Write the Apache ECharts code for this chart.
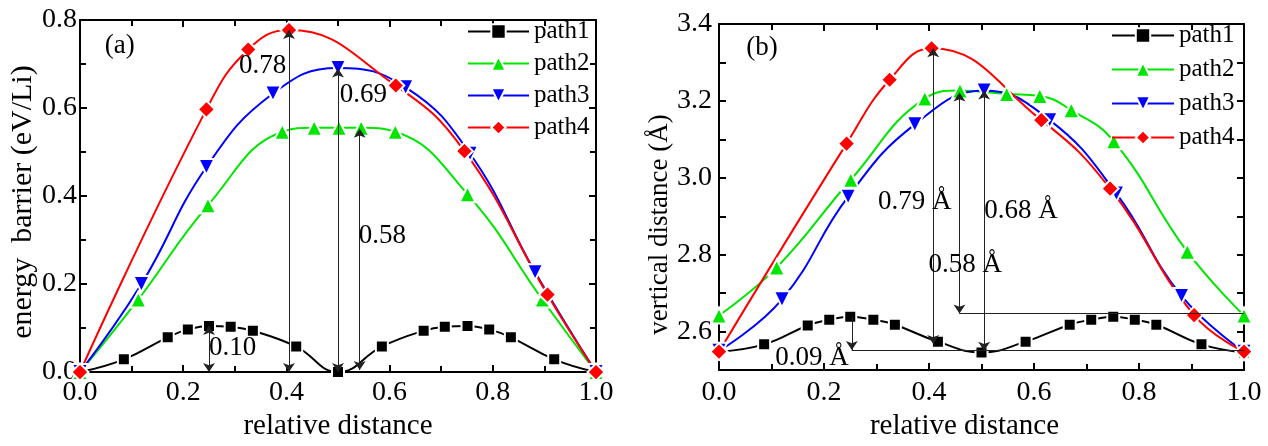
<!DOCTYPE html>
<html><head><meta charset="utf-8">
<script src="https://cdn.jsdelivr.net/npm/echarts@6/dist/echarts.min.js"></script>
<style>html,body{margin:0;padding:0;background:#fff}#c{width:1268px;height:446px}</style>
</head><body><div id="c"></div>
<script>
// ---------- data: panel (a) energy barrier ----------
const seriesNames = ['path1', 'path2', 'path3', 'path4'];
const a_p1_x = [0, 0.085, 0.17, 0.209, 0.25, 0.292, 0.335, 0.419, 0.5, 0.585, 0.666, 0.707, 0.751, 0.793, 0.835, 0.919, 1.0];
const a_p1_y = [0, 0.029, 0.079, 0.097, 0.105, 0.103, 0.094, 0.058, 0, 0.058, 0.094, 0.103, 0.105, 0.097, 0.079, 0.029, 0];
const a_p2_x = [0, 0.113, 0.248, 0.392, 0.454, 0.502, 0.545, 0.611, 0.751, 0.896, 1.0];
const a_p2_y = [0, 0.165, 0.379, 0.546, 0.555, 0.555, 0.555, 0.546, 0.404, 0.165, 0];
const a_p3_x = [0, 0.119, 0.245, 0.374, 0.5, 0.631, 0.756, 0.882, 1.0];
const a_p3_y = [0, 0.2, 0.466, 0.633, 0.691, 0.647, 0.496, 0.227, 0];
const a_p4_x = [0, 0.245, 0.326, 0.405, 0.612, 0.745, 0.906, 1.0];
const a_p4_y = [0, 0.597, 0.733, 0.777, 0.651, 0.502, 0.176, 0];
// annotation segments [x1,y1,x2,y2]
const a_arrowsBoth = [[0.405, 0, 0.405, 0.777], [0.5, 0, 0.5, 0.69], [0.542, 0.005, 0.542, 0.553], [0.25, 0, 0.25, 0.105]];
const a_labels = [['0.78', 0.354, 0.695], ['0.69', 0.549, 0.63], ['0.58', 0.586, 0.31], ['0.10', 0.296, 0.055], ['(a)', 0.077, 0.741]];

// ---------- data: panel (b) vertical distance ----------
const b_p1_x = [0, 0.086, 0.169, 0.21, 0.25, 0.294, 0.335, 0.417, 0.5, 0.584, 0.668, 0.709, 0.751, 0.792, 0.833, 0.919, 1.0];
const b_p1_y = [2.548, 2.567, 2.616, 2.631, 2.639, 2.631, 2.618, 2.574, 2.546, 2.574, 2.618, 2.631, 2.639, 2.631, 2.618, 2.567, 2.546];
const b_p2_x = [0, 0.11, 0.251, 0.392, 0.459, 0.548, 0.611, 0.671, 0.752, 0.892, 1.0];
const b_p2_y = [2.642, 2.767, 2.995, 3.206, 3.227, 3.218, 3.213, 3.176, 3.095, 2.808, 2.642];
const b_p3_x = [0, 0.12, 0.246, 0.373, 0.505, 0.63, 0.757, 0.881, 1.0];
const b_p3_y = [2.55, 2.684, 2.951, 3.139, 3.227, 3.15, 2.959, 2.693, 2.548];
const b_p4_x = [0, 0.243, 0.325, 0.405, 0.614, 0.745, 0.905, 1.0];
const b_p4_y = [2.548, 3.089, 3.255, 3.337, 3.15, 2.972, 2.643, 2.548];
const b_arrowsBoth = [[0.408, 2.568, 0.408, 3.337], [0.458, 2.647, 0.458, 3.222], [0.505, 2.55, 0.505, 3.227]];
const b_arrowsEnd = [[0.253, 2.639, 0.253, 2.552]];
const b_plain = [[0.458, 2.647, 1.0, 2.647], [0.253, 2.552, 1.0, 2.552]];
const b_labels = [['0.79 Å', 0.373, 2.938], ['0.68 Å', 0.575, 2.913], ['0.58 Å', 0.469, 2.773], ['0.09 Å', 0.177, 2.531], ['(b)', 0.082, 3.338]];

// ---------- styling ----------
const FONT = 'Liberation Serif';
const styles = {
  path1: { color: '#000000', symbol: 'rect', size: 12, rotate: 0 },
  path2: { color: '#00e600', symbol: 'triangle', size: 16, rotate: 0 },
  path3: { color: '#0000ff', symbol: 'triangle', size: 16, rotate: 180 },
  path4: { color: '#ff0000', symbol: 'diamond', size: 17, rotate: 0 }
};

function lineSeries(name, xs, ys, gi) {
  const s = styles[name];
  return {
    type: 'line', name: name, xAxisIndex: gi * 2, yAxisIndex: gi * 2,
    data: xs.map((x, i) => [x, ys[i]]),
    smooth: 0.45,
    symbol: s.symbol, symbolSize: s.size, symbolRotate: s.rotate,
    lineStyle: { color: s.color, width: 2 },
    itemStyle: { color: s.color, borderColor: '#fff', borderWidth: 2 },
    clip: true
  };
}
function segSeries(segs, gi, sym) {
  return {
    type: 'lines', coordinateSystem: 'cartesian2d', xAxisIndex: gi * 2, yAxisIndex: gi * 2,
    data: segs.map(s => ({ coords: [[s[0], s[1]], [s[2], s[3]]] })),
    symbol: sym, symbolSize: 9,
    lineStyle: { color: '#222', width: 1, opacity: 1 }, silent: true, z: 5
  };
}
function labelSeries(labels, gi) {
  return {
    type: 'custom', xAxisIndex: gi * 2, yAxisIndex: gi * 2, silent: true, z: 6, clip: false,
    data: labels.map(l => [l[1], l[2]]),
    renderItem: function (params, api) {
      const p = api.coord([api.value(0), api.value(1)]);
      return {
        type: 'text', x: p[0], y: p[1],
        style: { text: labels[params.dataIndex][0], fill: '#000',
          font: '27px "Liberation Serif"', align: 'center', verticalAlign: 'middle' }
      };
    }
  };
}
function xAxisPair(gi, labelMargin, namePad) {
  const common = {
    type: 'value', gridIndex: gi, min: 0, max: 1, interval: 0.2,
    axisLine: { show: true, onZero: false, lineStyle: { color: '#000', width: 2 } },
    axisTick: { show: true, inside: true, length: 7, lineStyle: { color: '#000', width: 2 } },
    minorTick: { show: true, splitNumber: 2, length: 6, lineStyle: { color: '#000', width: 2 } },
    splitLine: { show: false }, minorSplitLine: { show: false }
  };
  return [
    Object.assign({}, common, {
      position: 'bottom',
      name: 'relative distance', nameLocation: 'middle', nameGap: 30,
      nameTextStyle: { fontFamily: FONT, fontSize: 29, color: '#000', padding: namePad },
      axisLabel: { margin: labelMargin, fontFamily: FONT, fontSize: 28, color: '#000',
        formatter: v => v.toFixed(1) }
    }),
    Object.assign({}, common, { position: 'top', axisLabel: { show: false } })
  ];
}

const option = {
  animation: false,
  backgroundColor: '#fff',
  grid: [
    { left: 80, top: 20, width: 516, height: 367 },
    { left: 719, top: 24, width: 525, height: 353 }
  ],
  xAxis: [].concat(xAxisPair(0, 7, [0, 0, 0, 0]), xAxisPair(1, 9, [0, 34, 0, 0])),
  yAxis: [
    {
      type: 'value', gridIndex: 0, position: 'left', min: 0, max: 0.8, interval: 0.2,
      name: 'energy  barrier (eV/Li)', nameLocation: 'middle', nameGap: 33, nameRotate: 90,
      nameTextStyle: { fontFamily: FONT, fontSize: 30, color: '#000', padding: [0, 12, 0, 0] },
      axisLine: { show: true, onZero: false, lineStyle: { color: '#000', width: 2 } },
      axisTick: { show: true, inside: true, length: 7, lineStyle: { color: '#000', width: 2 } },
      minorTick: { show: true, splitNumber: 2, length: 6, lineStyle: { color: '#000', width: 2 } },
      splitLine: { show: false },
      axisLabel: { margin: 3, fontFamily: FONT, fontSize: 28, color: '#000', formatter: v => v.toFixed(1) }
    },
    {
      type: 'value', gridIndex: 0, position: 'right', min: 0, max: 0.8, interval: 0.2,
      axisLine: { show: true, onZero: false, lineStyle: { color: '#000', width: 2 } },
      axisTick: { show: true, inside: true, length: 7, lineStyle: { color: '#000', width: 2 } },
      minorTick: { show: true, splitNumber: 2, length: 6, lineStyle: { color: '#000', width: 2 } },
      splitLine: { show: false }, axisLabel: { show: false }
    },
    {
      type: 'value', gridIndex: 1, position: 'left', min: 2.5, max: 3.4, interval: 0.1,
      name: 'vertical distance (Å)', nameLocation: 'middle', nameGap: 42, nameRotate: 90,
      nameTextStyle: { fontFamily: FONT, fontSize: 27, color: '#000', padding: [0, 55, 0, 0] },
      axisLine: { show: true, onZero: false, lineStyle: { color: '#000', width: 2 } },
      axisTick: { show: true, inside: true, length: 7, lineStyle: { color: '#000', width: 2 } },
      splitLine: { show: false },
      axisLabel: { margin: 7, fontFamily: FONT, fontSize: 28, color: '#000',
        formatter: v => (Math.round(v * 10) % 2 === 0 ? v.toFixed(1) : '') }
    },
    {
      type: 'value', gridIndex: 1, position: 'right', min: 2.5, max: 3.4, interval: 0.1,
      axisLine: { show: true, onZero: false, lineStyle: { color: '#000', width: 2 } },
      axisTick: { show: true, inside: true, length: 7, lineStyle: { color: '#000', width: 2 } },
      splitLine: { show: false }, axisLabel: { show: false }
    }
  ],
  legend: [
    { left: 467, top: 19, orient: 'vertical', padding: 0, itemWidth: 61, itemHeight: 18, itemGap: 7,
      textStyle: { fontFamily: FONT, fontSize: 25, color: '#000', lineHeight: 25 }, data: seriesNames },
    { left: 1111, top: 23, orient: 'vertical', padding: 0, itemWidth: 62, itemHeight: 18, itemGap: 9,
      textStyle: { fontFamily: FONT, fontSize: 25, color: '#000', lineHeight: 25 }, data: seriesNames }
  ],
  series: [
    segSeries(a_arrowsBoth, 0, ['arrow', 'arrow']),
    lineSeries('path1', a_p1_x, a_p1_y, 0),
    lineSeries('path2', a_p2_x, a_p2_y, 0),
    lineSeries('path3', a_p3_x, a_p3_y, 0),
    lineSeries('path4', a_p4_x, a_p4_y, 0),
    labelSeries(a_labels, 0),
    segSeries(b_arrowsBoth, 1, ['arrow', 'arrow']),
    segSeries(b_arrowsEnd, 1, ['none', 'arrow']),
    segSeries(b_plain, 1, ['none', 'none']),
    lineSeries('path1', b_p1_x, b_p1_y, 1),
    lineSeries('path2', b_p2_x, b_p2_y, 1),
    lineSeries('path3', b_p3_x, b_p3_y, 1),
    lineSeries('path4', b_p4_x, b_p4_y, 1),
    labelSeries(b_labels, 1)
  ]
};
const chart = echarts.init(document.getElementById('c'), null, { renderer: 'canvas' });
chart.setOption(option);
</script></body></html>
